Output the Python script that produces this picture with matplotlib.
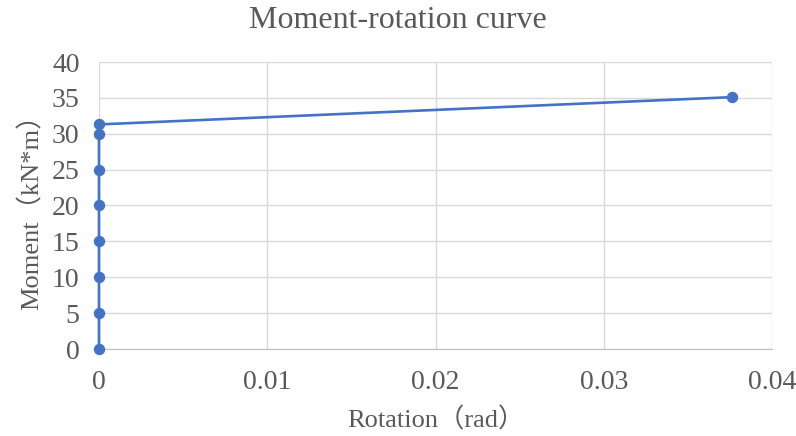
import matplotlib
matplotlib.use("Agg")
import matplotlib.pyplot as plt

rotation = [0, 0, 0, 0, 0, 0, 0, 0, 0.0376]
moment = [0, 5, 10, 15, 20, 25, 30, 31.3, 35.1]
xticks = [0, 0.01, 0.02, 0.03, 0.04]
xticklabels = ["0", "0.01", "0.02", "0.03", "0.04"]
yticks = [0, 5, 10, 15, 20, 25, 30, 35, 40]

fam = ['Liberation Serif', 'Noto Sans CJK SC']
plt.rcParams['font.family'] = fam

fig = plt.figure(figsize=(7.96, 4.36), dpi=100)
ax = fig.add_axes([99/796, 1-349/436, (772-99)/796, (349-62)/436])

ax.plot(rotation, moment, color='#4472C4', lw=1.9, marker='o', ms=7.2, zorder=3, clip_on=False)

ax.set_xlim(0, 0.04)
ax.set_ylim(0, 40)
ax.set_xticks(xticks)
ax.set_xticklabels(xticklabels)
ax.set_yticks(yticks)
ax.grid(True, color='#d9d9d9', lw=1)
ax.set_axisbelow(True)
for s in ['top', 'right', 'left']:
    ax.spines[s].set_visible(False)
ax.spines['bottom'].set_color('#bfbfbf')
ax.tick_params(length=0, labelsize=20, colors='#595959')
ax.tick_params(axis='x', pad=15)
ax.tick_params(axis='y', pad=14)

ax.set_xlabel('Rotation（rad）', fontsize=19, color='#595959', labelpad=9)
ax.set_ylabel('Moment（kN*m）', fontsize=19, color='#595959', labelpad=6)
fig.text(0.5, 1-20/436, 'Moment-rotation curve', ha='center', va='center', fontsize=23, color='#595959')

fig.savefig('out.png', dpi=100)
